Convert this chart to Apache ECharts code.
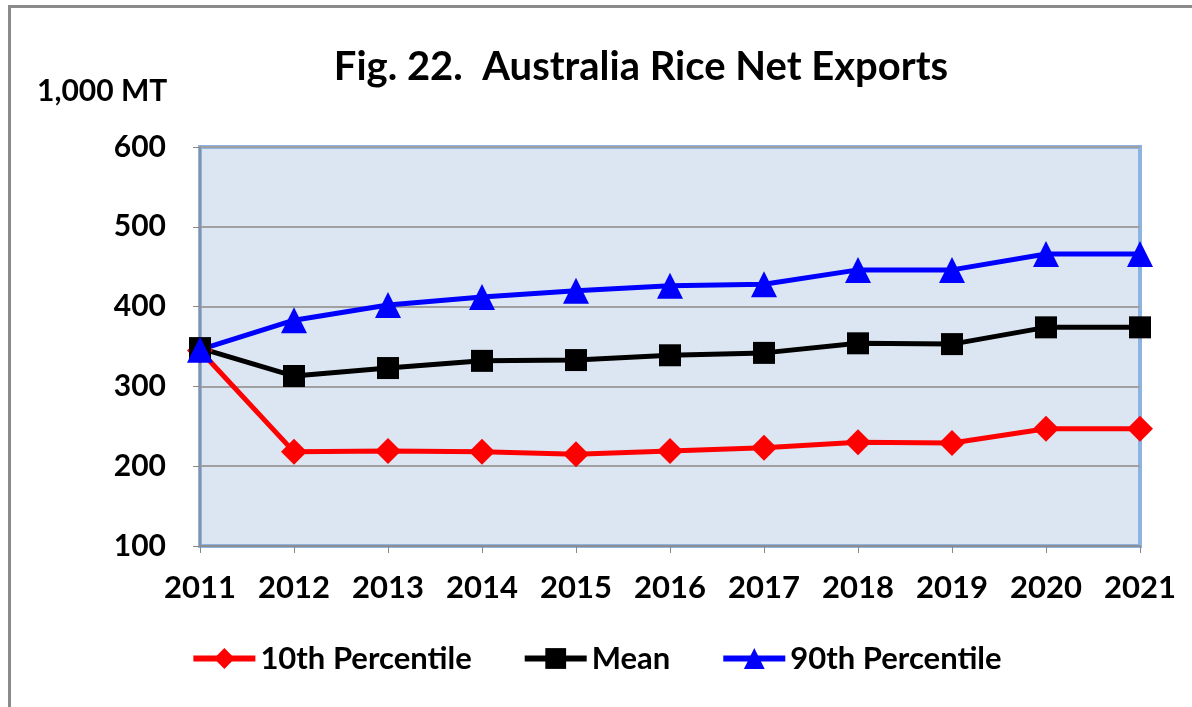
<!DOCTYPE html>
<html>
<head>
<meta charset="utf-8">
<script src="https://cdn.jsdelivr.net/npm/echarts@6/dist/echarts.min.js"></script>
<style>
  html, body { margin: 0; padding: 0; background: #fff; }
  #frame { position: absolute; left: 8px; top: 5px; width: 1184px; height: 702px;
           border-left: 3px solid #8a8a8a; border-top: 3px solid #8a8a8a; box-sizing: border-box; }
  #chart { position: absolute; left: 0; top: 0; width: 1192px; height: 707px; }
</style>
</head>
<body>
<div id="frame"></div>
<div id="chart"></div>
<script>
// years on the x axis
const years = ['2011', '2012', '2013', '2014', '2015', '2016', '2017', '2018', '2019', '2020', '2021']
// 1,000 MT
const pct10 = [345, 218, 219, 218, 215, 219, 223, 230, 229, 247, 247]
const mean = [348, 313, 323, 332, 333, 339, 342, 354, 353, 374, 374]
const pct90 = [346, 383, 402, 412, 420, 426, 428, 446, 446, 466, 466]

const font = 'Lato, "Open Sans", sans-serif'
const chart = echarts.init(document.getElementById('chart'))

chart.setOption({
  animation: false,
  title: {
    text: 'Fig. 22.  Australia Rice Net Exports',
    left: 636, top: 42, textAlign: 'center',
    textStyle: { fontFamily: font, fontSize: 40, fontWeight: 'bold', color: '#000' }
  },
  graphic: [{
    type: 'text', left: 37, top: 76,
    style: { text: '1,000 MT', font: 'bold 30px ' + font, fill: '#000' }
  }],
  grid: {
    left: 200, right: 52, top: 147, bottom: 161,
    show: true, backgroundColor: '#dce6f2', borderColor: '#8db3e2', borderWidth: 4
  },
  legend: {
    bottom: 28, left: 'center', itemWidth: 62, itemHeight: 26, itemGap: 50,
    lineStyle: { width: 6 },
    textStyle: { fontFamily: font, fontSize: 31, fontWeight: 'bold', color: '#000' },
    data: ['10th Percentile', 'Mean', '90th Percentile']
  },
  xAxis: {
    type: 'category', data: years, boundaryGap: false,
    axisLine: { lineStyle: { color: '#888', width: 1.5 } },
    axisTick: { show: true, length: 7, lineStyle: { color: '#888' } },
    axisLabel: { margin: 26, fontFamily: font, fontSize: 31, fontWeight: 'bold', color: '#000' }
  },
  yAxis: {
    type: 'value', min: 100, max: 600, interval: 100,
    axisLine: { show: true, lineStyle: { color: '#888', width: 1.5 } },
    axisTick: { show: true, length: 7, lineStyle: { color: '#888' } },
    splitLine: { lineStyle: { color: '#a0a0a0', width: 2 } },
    axisLabel: { margin: 34, fontFamily: font, fontSize: 30, fontWeight: 'bold', color: '#000' }
  },
  series: [
    {
      name: '10th Percentile', type: 'line', data: pct10,
      symbol: 'diamond', symbolSize: 26,
      lineStyle: { color: '#ff0000', width: 5 }, itemStyle: { color: '#ff0000' }
    },
    {
      name: 'Mean', type: 'line', data: mean,
      symbol: 'rect', symbolSize: 22,
      lineStyle: { color: '#000', width: 5 }, itemStyle: { color: '#000' }
    },
    {
      name: '90th Percentile', type: 'line', data: pct90,
      symbol: 'triangle', symbolSize: 26,
      lineStyle: { color: '#0000ff', width: 5 }, itemStyle: { color: '#0000ff' }
    }
  ]
})
</script>
</body>
</html>
